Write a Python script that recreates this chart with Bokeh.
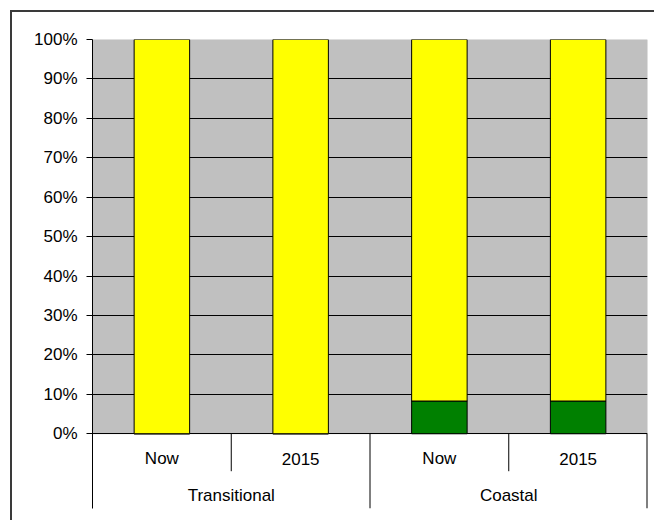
from bokeh.plotting import figure
from bokeh.models import (FactorRange, Range1d, FixedTicker, PrintfTickFormatter,
                          BoxAnnotation, ColumnDataSource)
from bokeh.layouts import column
from bokeh.embed import file_html
from bokeh.resources import INLINE
from bokeh.core.properties import value

# ---- data ----
groups = ["Transitional", "Coastal"]
periods = ["Now", "2015"]
green_share = [0.0, 0.0, 8.3, 8.3]
yellow_share = [100.0, 100.0, 91.7, 91.7]
y_ticks = [0, 10, 20, 30, 40, 50, 60, 70, 80, 90, 100]

FONT = "Liberation Sans"
FS = "17px"

factors = [(g, s) for g in groups for s in periods]
src = ColumnDataSource(dict(x=factors, green=green_share, yellow=yellow_share))

y_low = -18.96  # depth of the category-label band below 0%

p = figure(
    x_range=FactorRange(factors=factors, range_padding=0, group_padding=0,
                        factor_padding=0, subgroup_padding=0),
    y_range=Range1d(y_low, 100),
    width=642, height=508,
    min_border_left=80, min_border_right=7, min_border_top=27, min_border_bottom=12,
    output_backend="svg", toolbar_location=None, x_axis_location=None,
    background_fill_color="white", border_fill_color="white",
    outline_line_color=None,
)

# gray plot area
p.add_layout(BoxAnnotation(bottom=0, top=100, fill_color="#C0C0C0", fill_alpha=1,
                           line_color="#808080", line_width=1, level="image"))

p.xgrid.visible = False
p.ygrid.ticker = FixedTicker(ticks=y_ticks)
p.ygrid.grid_line_color = "black"
p.ygrid.grid_line_width = 1

p.vbar_stack(["green", "yellow"], x="x", width=0.4, source=src,
             fill_color=["#008000", "#FFFF00"], line_color="black", line_width=1)

ya = p.yaxis[0]
ya.ticker = FixedTicker(ticks=y_ticks)
ya.formatter = PrintfTickFormatter(format="%d%%")
ya.major_tick_out = 6
ya.major_tick_in = 0
ya.minor_tick_line_color = None
ya.major_tick_line_color = "black"
ya.axis_line_color = "black"
ya.major_label_text_font = FONT
ya.major_label_text_font_size = FS
ya.major_label_text_color = "black"
ya.major_label_standoff = 9

# category separators
inner_x = [(g, periods[0], 0.5) for g in groups]
p.segment(x0=inner_x, x1=inner_x, y0=[0] * len(inner_x), y1=[-9.5] * len(inner_x),
          line_color="black", line_width=1)
outer_x = [(g, periods[-1], 0.5) for g in groups[:-1]]
p.segment(x0=outer_x, x1=outer_x, y0=[0] * len(outer_x), y1=[y_low] * len(outer_x),
          line_color="black", line_width=1)
edge_x = [(groups[-1], periods[-1], 0.5)]
p.segment(x0=edge_x, x1=edge_x, y0=[0], y1=[y_low], line_color="black", line_width=2)

# category labels
p.text(x=factors, y=[-6.4] * len(factors), text=[s for g, s in factors],
       text_align="center", text_baseline="middle",
       text_font=value(FONT), text_font_size=FS, text_color="black")
p.text(x=inner_x, y=[-15.66] * len(groups), text=groups,
       text_align="center", text_baseline="middle",
       text_font=value(FONT), text_font_size=FS, text_color="black")

layout = column(p, styles={"margin-left": "10px", "margin-top": "10px",
                           "border-left": "2px solid #3a3a3a",
                           "border-top": "2px solid #3a3a3a"})

open("out.html", "w").write(file_html(layout, INLINE))
